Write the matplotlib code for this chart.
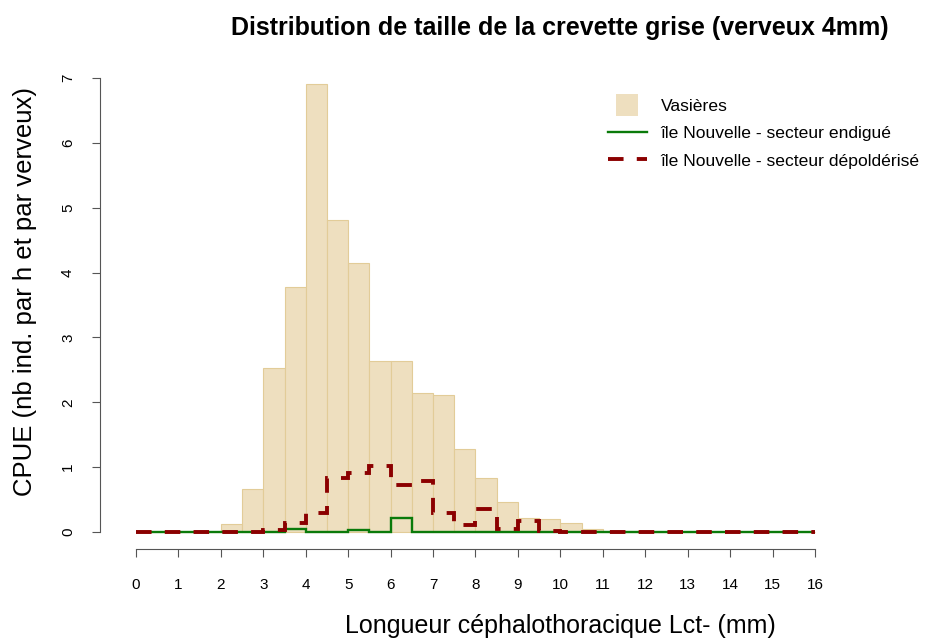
import numpy as np
import matplotlib.pyplot as plt
from matplotlib.patches import Rectangle
from matplotlib.legend_handler import HandlerPatch

plt.rcParams["font.family"] = ["Liberation Sans", "DejaVu Sans"]

# bins of 0.5 mm from 0 to 16
edges = np.arange(0, 16.5, 0.5)

vasieres = [0, 0, 0, 0, 0.12, 0.66, 2.53, 3.78, 6.90, 4.81, 4.14, 2.63, 2.64, 2.14, 2.11, 1.28,
            0.84, 0.47, 0.22, 0.20, 0.14, 0.05, 0.02, 0.01, 0, 0, 0, 0, 0, 0, 0, 0]
endigue = [0, 0, 0, 0, 0, 0, 0, 0.05, 0, 0, 0.025, 0, 0.21, 0, 0, 0,
           0, 0, 0, 0, 0, 0, 0, 0, 0, 0, 0, 0, 0, 0, 0, 0]
depolderise = [0, 0, 0, 0, 0, 0, 0.03, 0.14, 0.29, 0.84, 0.91, 1.01, 0.72, 0.79, 0.30, 0.11,
               0.35, 0.04, 0.17, 0.01, 0, 0, 0, 0, 0, 0, 0, 0, 0, 0, 0, 0]

W, H = 929, 639
fig = plt.figure(figsize=(W / 100, H / 100), dpi=100)

# plot region in pixels (R-like layout)
left, right, top, bottom = 100, 840, 60, 549
ax = fig.add_axes([left / W, 1 - bottom / H, (right - left) / W, (bottom - top) / H])

ppx = (815 - 136) / 16.0
ppy = (532 - 78) / 7.0
ax.set_xlim(-(136 - left) / ppx, 16 + (right - 815) / ppx)
ax.set_ylim(-(bottom - 532) / ppy, 7 + (78 - top) / ppy)

bar_fill, bar_edge = "#EEDFBF", "#E2CC98"
ax.bar(edges[:-1], vasieres, width=0.5, align="edge", color=bar_fill,
       edgecolor=bar_edge, linewidth=0.8, zorder=1)
g = ax.stairs(endigue, edges, color="#0A7A0A", linewidth=1.7, zorder=2)
r = ax.stairs(depolderise, edges, color="#8B0000", linewidth=2.8,
              linestyle=(0, (4.0, 3.4)), zorder=3)

# R-style axes
for s in ["top", "right"]:
    ax.spines[s].set_visible(False)
ax.spines["left"].set_bounds(0, 7)
ax.spines["bottom"].set_bounds(0, 16)
for s in ["left", "bottom"]:
    ax.spines[s].set_color("#555555")
    ax.spines[s].set_linewidth(0.8)

ax.set_xticks(range(0, 17))
ax.set_yticks(range(0, 8))
ax.tick_params(axis="both", length=6, width=0.8, color="#555555", labelsize=11, pad=15)
ax.tick_params(axis="y", pad=12)
for t in ax.get_yticklabels():
    t.set_rotation(90)
    t.set_va("center")

ax.set_xlabel("Longueur céphalothoracique Lct- (mm)", fontsize=18)
ax.set_ylabel("CPUE (nb ind. par h et par verveux)", fontsize=18.5)
ax.xaxis.set_label_coords(560 / W, 1 - 626 / H, transform=fig.transFigure)
ax.yaxis.set_label_coords(25 / W, 1 - 292 / H, transform=fig.transFigure)
ax.xaxis.label.set_va("center")
ax.yaxis.label.set_va("center")

fig.text(560 / W, 1 - 28 / H, "Distribution de taille de la crevette grise (verveux 4mm)",
         ha="center", va="center", fontsize=18, fontweight="bold")


def square_patch(legend, orig_handle, xdescent, ydescent, width, height, fontsize):
    s = 16
    return Rectangle((width / 2 - s / 2 - xdescent, height / 2 - s / 2 - ydescent), s, s)


box = Rectangle((0, 0), 1, 1, facecolor=bar_fill, edgecolor="none")
ax.legend([box, g, r], ["Vasières", "île Nouvelle - secteur endigué",
                        "île Nouvelle - secteur dépoldérisé"],
          handler_map={Rectangle: HandlerPatch(patch_func=square_patch)},
          loc="upper left", bbox_to_anchor=(601 / W, 1 - 92 / H), bbox_transform=fig.transFigure,
          frameon=False, fontsize=12.6, handlelength=2.2, handletextpad=0.8,
          labelspacing=0.68, borderaxespad=0)

fig.savefig("out.png", dpi=100)
